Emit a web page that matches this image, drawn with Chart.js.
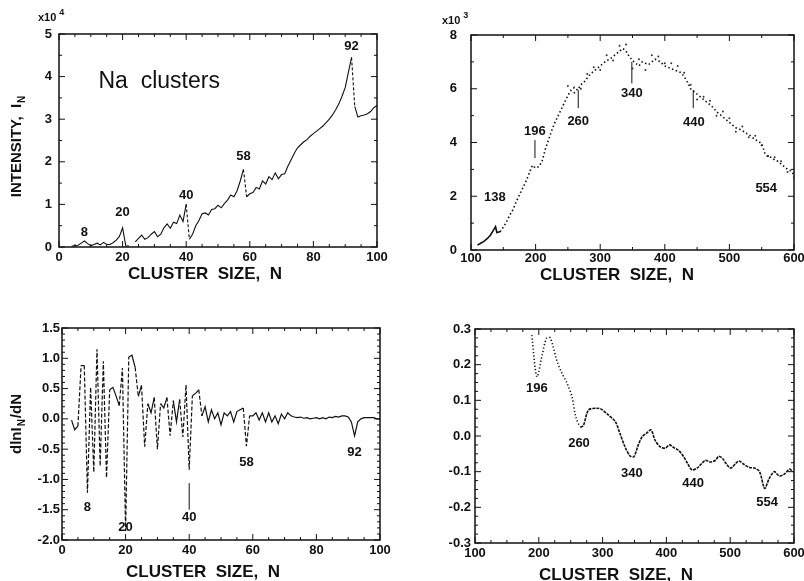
<!DOCTYPE html>
<html>
<head>
<meta charset="utf-8">
<script src="https://cdn.jsdelivr.net/npm/chart.js@4.4.1/dist/chart.umd.min.js"></script>
<style>
  html, body { margin: 0; padding: 0; background: #fff; width: 804px; height: 581px; overflow: hidden; position: relative; }
  canvas { position: absolute; }
</style>
</head>
<body>
<canvas id="c1" width="400" height="290" style="left:0;top:0"></canvas>
<canvas id="c2" width="430" height="290" style="left:400px;top:0"></canvas>
<canvas id="c3" width="400" height="291" style="left:0;top:290px"></canvas>
<canvas id="c4" width="430" height="291" style="left:400px;top:290px"></canvas>
<script>
// ---- data ----

// top left: intensity (x10^4) vs N, small clusters
const sizeSmall = [4,5,6,7,8,9,10,11,12,13,14,15,16,17,18,19,20,21,22,23,24,25,26,27,28,29,30,
  31,32,33,34,35,36,37,38,39,40,41,42,43,44,45,46,47,48,49,50,51,52,53,54,55,56,57,58,59,60,
  61,62,63,64,65,66,67,68,69,70,71,72,73,74,75,76,77,78,79,80,81,82,83,84,85,86,87,88,89,90,
  91,92,93,94,95,96,97,98,99,100];
const intensitySmall = [0.02,0.03,0.04,0.09,0.14,0.08,0.03,0.06,0.09,0.05,0.11,0.06,0.06,0.1,0.16,0.25,0.45,
  0.03,0.02,null,0.12,0.2,0.28,0.18,0.22,0.3,0.36,
  0.24,0.3,0.45,0.54,0.44,0.58,0.55,0.75,0.6,1.0,0.18,0.3,0.5,0.62,0.78,0.8,0.75,0.88,0.9,0.98,
  0.92,1.02,1.1,1.22,1.18,1.32,1.55,1.82,1.18,1.25,
  1.28,1.4,1.36,1.55,1.48,1.65,1.58,1.74,1.6,1.7,1.72,1.9,2.05,2.2,2.33,2.4,2.47,2.52,2.6,2.66,
  2.72,2.78,2.84,2.92,3.0,3.1,3.22,3.36,3.54,3.74,4.1,4.45,3.3,3.05,3.08,3.1,3.13,3.18,3.27,3.32];
const magicSmallN = [8, 20, 40, 58, 92];
const magicTopV = [0.35, 0.8, 1.2, 2.12, 4.71];

// top right: intensity (x10^3) vs N, large clusters
const sizeLarge = [110,115,120,125,130,135,138,140,145,150,155,160,165,170,175,180,185,190,195,200,
  205,210,215,220,225,230,235,240,245,250,255,260,265,270,275,280,285,290,295,300,
  305,310,315,320,325,330,335,340,345,350,355,360,365,370,375,380,385,390,395,400,
  405,410,415,420,425,430,435,440,445,450,455,460,465,470,475,480,485,490,495,500,
  505,510,515,520,525,530,535,540,545,550,555,560,565,570,575,580,585,590,595,600];
const intensityLarge = [0.18,0.25,0.32,0.42,0.55,0.75,0.87,0.65,0.68,0.85,1.05,1.3,1.5,1.8,2.05,2.3,2.55,2.85,3.15,3.05,
  3.1,3.3,3.75,4.1,4.45,4.75,5.0,5.25,5.5,5.75,5.95,6.05,5.95,6.15,6.25,6.4,6.55,6.65,6.75,6.85,
  6.95,7.05,7.1,7.2,7.3,7.4,7.5,7.4,7.2,7.05,6.95,6.85,7.0,6.95,6.9,7.0,7.1,7.05,6.95,6.85,
  6.8,6.75,6.7,6.65,6.6,6.45,6.25,6.0,5.9,5.8,5.7,5.6,5.5,5.4,5.3,5.15,5.05,4.95,4.85,4.75,
  4.65,4.55,4.5,4.45,4.35,4.3,4.2,4.1,4.05,3.95,3.6,3.45,3.45,3.35,3.3,3.2,3.1,3.0,2.95,2.8];
const sizeSpread = [250,260,270,280,290,300,310,320,330,340,350,360,370,380,390,400,410,420,
  430,440,450,460,470,480,490,500,510,520,530,540,550,560,570,580,590,600];
const intensitySpread = [6.1,5.85,6.0,6.55,6.8,6.7,7.25,7.05,7.6,7.65,6.75,7.1,6.7,7.25,7.2,6.95,6.95,6.85,
  6.6,6.15,5.6,5.7,5.55,5.0,5.15,4.9,4.4,4.6,4.2,4.25,3.9,3.5,3.45,3.3,2.9,2.7];
const shellLabelN = [137, 199, 266, 349, 445, 557];
const shellLabelV = [1.97, 4.43, 4.8, 5.84, 4.76, 2.3];
const shellText = ['138', '196', '260', '340', '440', '554'];
const markerN = [199, 266, 349, 444];
const markerFrom = [3.42, 5.28, 6.2, 5.28];
const markerTo = [4.09, 5.95, 7.0, 5.95];

// bottom left: dlnI/dN vs N
const sizeDeriv = [3,4,5,6,7,8,9,10,11,12,13,14,15,16,17,18,19,20,21,22,23,24,25,26,27,28,29,30,
  31,32,33,34,35,36,37,38,39,40,41,42,43,44,45,46,47,48,49,50,51,52,53,54,55,56,57,58,59,60,
  61,62,63,64,65,66,67,68,69,70,71,72,73,74,75,76,77,78,79,80,81,82,83,84,85,86,87,88,89,90,
  91,92,93,94,95,96,97,98,99,100];
const derivSmall = [-0.02,-0.18,-0.12,0.88,0.88,-1.22,0.52,-0.88,1.15,-0.78,0.95,-0.97,0.48,0.52,0.38,0.22,0.84,-1.85,
  1.02,1.05,0.85,0.37,0.55,-0.46,0.25,0.1,0.35,-0.5,
  0.25,0.18,0.35,-0.28,0.3,-0.05,0.32,-0.3,0.56,-0.84,0.38,0.42,0.48,0.05,0.2,-0.05,0.15,0.0,0.1,-0.1,
  0.1,0.05,0.12,-0.05,0.12,0.15,0.18,-0.45,0.05,0.05,
  0.1,-0.02,0.1,-0.05,0.1,-0.05,0.05,-0.08,0.08,0.0,0.1,0.05,0.03,0.02,0.03,0.01,0.02,0.0,0.01,0.02,
  0.0,0.02,0.0,0.03,0.02,0.04,0.03,0.05,0.05,0.03,-0.05,-0.28,-0.05,0.0,0.02,0.02,0.02,0.02,0.0,0.0];
const derivLabelV = [-1.47, -1.8, -1.63, -0.72, -0.56];

// bottom right: dlnI/dN vs N, large clusters
const sizeDerivLarge = [189,197,205,212,218,228,236,244,252,258,265,270,278,291,299,309,320,327,335,343,
  349,356,362,369,376,382,390,398,405,411,419,427,433,440,448,456,461,469,477,482,
  488,493,501,509,514,522,530,538,546,554,561,569,577,585,593,598];
const derivLarge = [0.283,0.166,0.225,0.274,0.275,0.213,0.177,0.149,0.11,0.054,0.026,0.03,0.073,0.078,0.074,0.059,0.04,0.008,-0.03,-0.056,
  -0.058,-0.025,-0.002,0.008,0.017,-0.011,-0.03,-0.034,-0.025,-0.032,-0.04,-0.058,-0.076,-0.095,-0.09,-0.076,-0.068,-0.073,-0.068,-0.057,
  -0.063,-0.076,-0.09,-0.076,-0.07,-0.08,-0.088,-0.09,-0.1,-0.147,-0.12,-0.1,-0.112,-0.107,-0.093,-0.1];
const derivLargeLabelN = [197, 263, 346, 442, 558];
const derivLargeLabelV = [0.132, -0.02, -0.104, -0.132, -0.185];

// ---- drawing ----
const ink = '#111';
const FONT = '"Liberation Sans", Arial, sans-serif';
Chart.defaults.color = ink;
Chart.defaults.font.family = FONT;
Chart.defaults.animation = false;

const pts = (xs, ys) => xs.map((n, i) => ({ x: n, y: ys[i] }));
const fmt1 = v => (Math.abs(v) < 1e-9 ? '0.0' : v.toFixed(1));

// frame with inward ticks, axis titles, magic-number labels
const deco = {
  id: 'deco',
  afterDatasetsDraw(chart, args, o) {
    const { ctx, chartArea: a } = chart;
    const x = chart.scales.x, y = chart.scales.y;
    const seg = (x0, y0, x1, y1) => { ctx.beginPath(); ctx.moveTo(x0, y0); ctx.lineTo(x1, y1); ctx.stroke(); };
    ctx.save();
    ctx.strokeStyle = ink; ctx.fillStyle = ink;
    ctx.lineWidth = 1.5;
    ctx.strokeRect(a.left, a.top, a.right - a.left, a.bottom - a.top);
    ctx.lineWidth = 1;
    const xt = x.ticks.map(t => t.value), yt = y.ticks.map(t => t.value);
    xt.forEach((v, i) => {
      const p = x.getPixelForValue(v);
      seg(p, a.bottom, p, a.bottom - 6); seg(p, a.top, p, a.top + 6);
      if (i < xt.length - 1) for (let k = 1; k < o.xMinor; k++) {
        const q = x.getPixelForValue(v + (xt[i + 1] - v) * k / o.xMinor);
        seg(q, a.bottom, q, a.bottom - 3); seg(q, a.top, q, a.top + 3);
      }
    });
    yt.forEach((v, i) => {
      const p = y.getPixelForValue(v);
      seg(a.left, p, a.left + 6, p); seg(a.right, p, a.right - 6, p);
      if (i < yt.length - 1) for (let k = 1; k < o.yMinor; k++) {
        const q = y.getPixelForValue(v + (yt[i + 1] - v) * k / o.yMinor);
        seg(a.left, q, a.left + 3, q); seg(a.right, q, a.right - 3, q);
      }
    });

    // marker strokes
    (o.marks ? o.marks.n : []).forEach((n, i) => {
      const p = x.getPixelForValue(n);
      seg(p, y.getPixelForValue(o.marks.from[i]), p, y.getPixelForValue(o.marks.to[i]));
    });

    // labels
    ctx.font = 'bold 13px ' + FONT;
    ctx.textAlign = 'center'; ctx.textBaseline = 'middle';
    o.labels.n.forEach((n, i) => {
      ctx.fillText(o.labels.text[i], x.getPixelForValue(n), y.getPixelForValue(o.labels.v[i]));
    });

    // x title
    ctx.font = 'bold 17px ' + FONT;
    ctx.fillText('CLUSTER  SIZE,  N', o.xTitle[0], o.xTitle[1]);

    // y title with subscript N
    if (o.yTitle) {
      const [main, rest] = o.yTitle.parts;
      ctx.save();
      ctx.translate(o.yTitle.at[0], o.yTitle.at[1]);
      ctx.rotate(-Math.PI / 2);
      const big = 'bold ' + o.yTitle.size + 'px ' + FONT, small = 'bold 10px ' + FONT;
      ctx.font = big; const w1 = ctx.measureText(main).width, w3 = ctx.measureText(rest).width;
      ctx.font = small; const w2 = ctx.measureText('N').width + 2;
      let s = -(w1 + w2 + w3) / 2;
      ctx.textAlign = 'left'; ctx.textBaseline = 'middle';
      ctx.font = big; ctx.fillText(main, s, 0); s += w1 + 1;
      ctx.font = small; ctx.fillText('N', s, 5); s += w2 - 1;
      ctx.font = big; ctx.fillText(rest, s, 0);
      ctx.restore();
    }

    // x10^n multiplier
    if (o.mult) {
      ctx.textAlign = 'left'; ctx.textBaseline = 'middle';
      ctx.font = 'bold 11px ' + FONT;
      ctx.fillText('x10', o.mult.at[0], o.mult.at[1]);
      const w = ctx.measureText('x10').width;
      ctx.font = 'bold 9px ' + FONT;
      ctx.fillText(o.mult.exp, o.mult.at[0] + w + 3, o.mult.at[1] - 5);
    }

    if (o.note) {
      ctx.font = '23px ' + FONT;
      ctx.textAlign = 'center';
      ctx.fillText('Na  clusters', x.getPixelForValue(o.note[0]), y.getPixelForValue(o.note[1]));
    }
    ctx.restore();
  }
};

function axes(xr, yr, fmt) {
  const tickFont = { size: 13, weight: 'bold', family: FONT };
  return {
    x: {
      type: 'linear', min: xr.min, max: xr.max,
      ticks: { stepSize: xr.step, font: tickFont, padding: xr.pad, color: ink, maxRotation: 0 },
      grid: { display: false, drawTicks: false }, border: { display: false },
      afterFit: s => { s.height = xr.h; }
    },
    y: {
      type: 'linear', min: yr.min, max: yr.max,
      ticks: { stepSize: yr.step, font: tickFont, padding: yr.pad, color: ink, callback: fmt },
      grid: { display: false, drawTicks: false }, border: { display: false },
      afterFit: s => { s.width = yr.w; }
    }
  };
}

const common = (pad) => ({
  responsive: false,
  layout: { padding: pad },
  plugins: { legend: { display: false }, tooltip: { enabled: false } },
  elements: { point: { radius: 0 } }
});

// top left
new Chart(document.getElementById('c1'), {
  type: 'line',
  data: { datasets: [{
    data: pts(sizeSmall, intensitySmall),
    borderColor: ink, borderWidth: 1.1, tension: 0, spanGaps: false,
    segment: { borderDash: c => (c.p1.parsed.y - c.p0.parsed.y < -0.5 ? [3, 2] : undefined) }
  }] },
  options: Object.assign(common({ top: 34, right: 23, left: 0, bottom: 0 }), {
    scales: axes({ min: 0, max: 100, step: 20, pad: 3, h: 43 }, { min: 0, max: 5, step: 1, pad: 7, w: 59 }, v => v),
    plugins: { legend: { display: false }, tooltip: { enabled: false },
      deco: { xMinor: 4, yMinor: 2, xTitle: [205, 274],
        labels: { n: magicSmallN, v: magicTopV, text: magicSmallN.map(String) },
        yTitle: { at: [17, 146], size: 15, parts: ['INTENSITY,  I', ''] },
        mult: { at: [38, 18], exp: '4' }, note: [31.5, 3.88] } }
  }),
  plugins: [deco]
});

// top right
new Chart(document.getElementById('c2'), {
  type: 'line',
  data: { datasets: [
    { data: pts(sizeLarge, intensityLarge), borderColor: ink, borderWidth: 1.6, tension: 0,
      segment: { borderDash: c => (c.p0.parsed.x < 142 ? undefined : [1.5, 2.5]) } },
    { data: pts(sizeSpread, intensitySpread), showLine: false, pointRadius: 1, pointBackgroundColor: '#333', pointBorderWidth: 0 }
  ] },
  options: Object.assign(common({ top: 35, right: 36, left: 0, bottom: 0 }), {
    scales: axes({ min: 100, max: 600, step: 100, pad: 1, h: 40 }, { min: 0, max: 8, step: 2, pad: 14, w: 71 }, v => v),
    plugins: { legend: { display: false }, tooltip: { enabled: false },
      deco: { xMinor: 2, yMinor: 2, xTitle: [217, 275],
        labels: { n: shellLabelN, v: shellLabelV, text: shellText },
        marks: { n: markerN, from: markerFrom, to: markerTo },
        mult: { at: [42, 21], exp: '3' } } }
  }),
  plugins: [deco]
});

// bottom left
new Chart(document.getElementById('c3'), {
  type: 'line',
  data: { datasets: [{
    data: pts(sizeDeriv, derivSmall),
    borderColor: ink, borderWidth: 1.2, tension: 0,
    segment: { borderDash: c => (Math.abs(c.p1.parsed.y - c.p0.parsed.y) > 0.4 ? [4, 2] : undefined) }
  }] },
  options: Object.assign(common({ top: 38, right: 20, left: 0, bottom: 0 }), {
    scales: axes({ min: 0, max: 100, step: 20, pad: 3, h: 41 }, { min: -2, max: 1.5, step: 0.5, pad: 2, w: 62 }, fmt1),
    plugins: { legend: { display: false }, tooltip: { enabled: false },
      deco: { xMinor: 4, yMinor: 5, xTitle: [203, 282],
        labels: { n: magicSmallN, v: derivLabelV, text: magicSmallN.map(String) },
        marks: { n: [40], from: [-1.06], to: [-1.5] },
        yTitle: { at: [17, 134], size: 15, parts: ['dlnI', '/dN'] } } }
  }),
  plugins: [deco]
});

// bottom right
new Chart(document.getElementById('c4'), {
  type: 'line',
  data: { datasets: [{
    data: pts(sizeDerivLarge, derivLarge),
    borderColor: ink, borderWidth: 1.6, tension: 0.3,
    segment: { borderDash: c => (c.p0.parsed.x < 262 ? [1.2, 2.2] : [3, 1]) }
  }] },
  options: Object.assign(common({ top: 39, right: 36, left: 0, bottom: 0 }), {
    scales: axes({ min: 100, max: 600, step: 100, pad: 3, h: 38 }, { min: -0.3, max: 0.3, step: 0.1, pad: 4, w: 75 }, fmt1),
    plugins: { legend: { display: false }, tooltip: { enabled: false },
      deco: { xMinor: 4, yMinor: 4, xTitle: [216, 285],
        labels: { n: derivLargeLabelN, v: derivLargeLabelV, text: ['196', '260', '340', '440', '554'] } } }
  }),
  plugins: [deco]
});
</script>
</body>
</html>
